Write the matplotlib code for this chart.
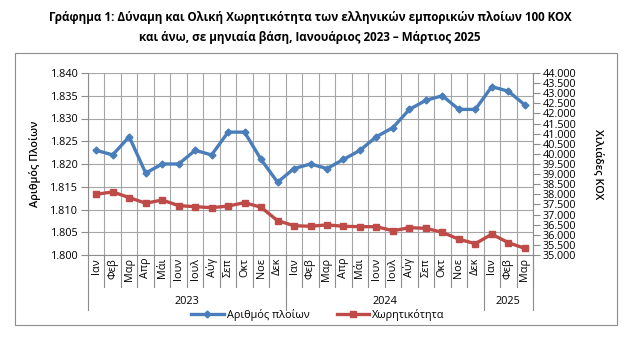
import matplotlib
matplotlib.use('Agg')
from matplotlib import pyplot as plt
from matplotlib import transforms
from matplotlib.patches import Rectangle
from matplotlib.ticker import FuncFormatter, MultipleLocator

plt.rcParams['font.family'] = ['Open Sans', 'DejaVu Sans']

# data
months = ['Ιαν', 'Φεβ', 'Μαρ', 'Απρ', 'Μάι', 'Ιουν', 'Ιουλ', 'Αύγ', 'Σεπ', 'Οκτ', 'Νοε', 'Δεκ',
          'Ιαν', 'Φεβ', 'Μαρ', 'Απρ', 'Μάι', 'Ιουν', 'Ιουλ', 'Αύγ', 'Σεπ', 'Οκτ', 'Νοε', 'Δεκ',
          'Ιαν', 'Φεβ', 'Μαρ']
years = ['2023', '2024', '2025']
year_lengths = [12, 12, 3]
ships = [1823, 1822, 1826, 1818, 1820, 1820, 1823, 1822, 1827, 1827, 1821, 1816,
         1819, 1820, 1819, 1821, 1823, 1826, 1828, 1832, 1834, 1835, 1832, 1832,
         1837, 1836, 1833]
capacity = [38000, 38120, 37840, 37560, 37720, 37440, 37390, 37340, 37420, 37590, 37360, 36700,
            36450, 36420, 36490, 36420, 36400, 36400, 36200, 36350, 36320, 36120, 35780, 35560,
            36030, 35610, 35330]

blue = '#4a7ebb'
red = '#be4b48'
grid_c = '#a6a6a6'

fig = plt.figure(figsize=(6.24, 3.44), dpi=100)
W, H = 624, 344

# chart area frame
fig.patches.append(Rectangle((15 / W, 1 - 325 / H), 602 / W, 272 / H, transform=fig.transFigure,
                             fill=False, edgecolor='#8c8c8c', linewidth=0.8))

fig.text(0.497, 1 - 17 / H, 'Γράφημα 1: Δύναμη και Ολική Χωρητικότητα των ελληνικών εμπορικών πλοίων 100 ΚΟΧ',
         ha='center', va='center', fontsize=8.4, fontweight='bold')
fig.text(0.497, 1 - 37 / H, 'και άνω, σε μηνιαία βάση, Ιανουάριος 2023 – Μάρτιος 2025',
         ha='center', va='center', fontsize=8.4, fontweight='bold')

ax = fig.add_axes([88 / W, 1 - 255 / H, (533 - 88) / W, (255 - 73) / H])
ax2 = ax.twinx()

x = list(range(len(months)))
l1, = ax.plot(x, ships, color=blue, lw=2.4, marker='D', ms=3.5, label='Αριθμός πλοίων', zorder=3)
l2, = ax2.plot(x, capacity, color=red, lw=2.4, marker='s', ms=4, label='Χωρητικότητα', zorder=3)

ax.set_xlim(-0.5, len(months) - 0.5)
ax.set_ylim(1800, 1840)
ax.yaxis.set_major_locator(MultipleLocator(5))
ax.yaxis.set_major_formatter(FuncFormatter(lambda v, p: f'{v / 1000:.3f}'))
ax2.set_ylim(35000, 44000)
ax2.yaxis.set_major_locator(MultipleLocator(500))
ax2.yaxis.set_major_formatter(FuncFormatter(lambda v, p: f'{v / 1000:.3f}'))

ax.set_xticks([])
ax.set_xticks([i - 0.5 for i in range(len(months) + 1)], minor=True)
ax.tick_params(axis='x', which='minor', length=0)
ax.grid(True, which='minor', axis='x', color=grid_c, lw=0.8)
ax.grid(True, which='major', axis='y', color=grid_c, lw=0.8)
ax.set_axisbelow(True)

for a in (ax, ax2):
    for s in a.spines.values():
        s.set_visible(False)
ax.spines['left'].set_visible(True)
ax.spines['left'].set_color('#8c8c8c')
ax2.spines['right'].set_visible(True)
ax2.spines['right'].set_color('#8c8c8c')
ax.tick_params(axis='y', labelsize=7.8, length=5, color='#8c8c8c', pad=2)
ax2.tick_params(axis='y', labelsize=7.8, length=5, color='#8c8c8c', pad=2)

ax.set_ylabel('Αριθμός Πλοίων', fontsize=7.8, fontweight='semibold', labelpad=7)
ax2.set_ylabel('Χιλιάδες ΚΟΧ', fontsize=7.8, fontweight='semibold', rotation=270, labelpad=19)

# category axis below the plot
trans = transforms.blended_transform_factory(ax.transData, ax.transAxes)
px = 1 / (255 - 73)
ax.plot([-0.5, len(months) - 0.5], [0, 0], color='#8c8c8c', lw=0.8, transform=trans, clip_on=False)
for i, m in enumerate(months):
    ax.text(i, -3 * px, m, rotation=90, ha='center', va='top', fontsize=7.8, transform=trans)
    ax.plot([i + 0.5, i + 0.5], [0, -32 * px], color='#8c8c8c', lw=0.8, transform=trans, clip_on=False)

start = 0
ax.plot([-0.5, -0.5], [0, -55 * px], color='#8c8c8c', lw=0.8, transform=trans, clip_on=False)
for y, n in zip(years, year_lengths):
    ax.text(start + (n - 1) / 2, -47 * px, y, ha='center', va='center', fontsize=7.8, transform=trans)
    ax.plot([start + n - 0.5] * 2, [0, -55 * px], color='#8c8c8c', lw=0.8, transform=trans, clip_on=False)
    start += n

fig.legend([l1, l2], ['Αριθμός πλοίων', 'Χωρητικότητα'], loc='center', ncol=2,
           bbox_to_anchor=(318 / W, 1 - 315 / H), frameon=False, fontsize=7.8,
           handlelength=3, columnspacing=2.5, handletextpad=0.3, borderpad=0)

fig.savefig('out.png', dpi=100)
